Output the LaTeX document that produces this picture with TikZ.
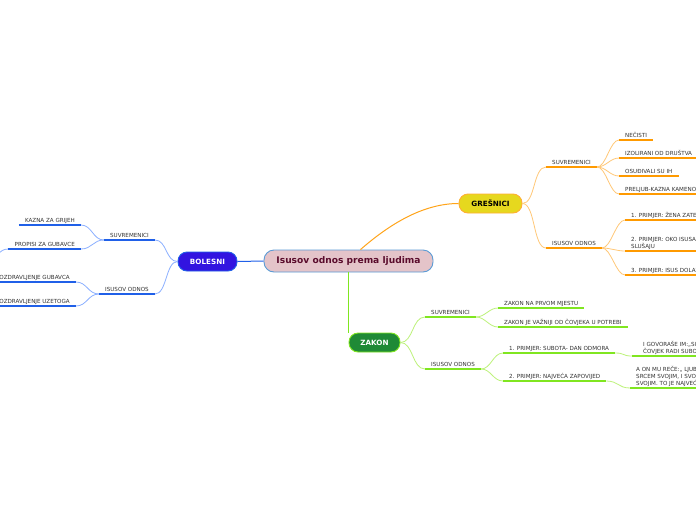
\documentclass[tikz,border=0pt]{standalone}
\usepackage{fontspec}
\setmainfont{DejaVu Sans}
\definecolor{ora}{HTML}{FF9A00}
\definecolor{oral}{HTML}{FFC878}
\definecolor{grn}{HTML}{80E620}
\definecolor{grnl}{HTML}{BDF27A}
\definecolor{blu}{HTML}{2060E8}
\definecolor{blul}{HTML}{8CB0FF}
\definecolor{cfill}{HTML}{E4C4C9}
\definecolor{cbord}{HTML}{5B9BD5}
\definecolor{ctext}{HTML}{5A0C2C}
\definecolor{yfill}{HTML}{E6D81E}
\definecolor{bfill}{HTML}{3214E0}
\definecolor{zfill}{HTML}{1F8A36}
\definecolor{ltxt}{HTML}{333333}
\begin{document}
\begin{tikzpicture}[x=1pt,y=-1pt,
  lbl/.style={font=\fontsize{5.6}{7}\selectfont, text=ltxt, inner xsep=6pt, inner ysep=2.8pt, text depth=0pt, align=left},
  lblr/.style={lbl, anchor=south east},
  lbll/.style={lbl, anchor=south west},
  topic/.style={rounded corners=9pt, font=\fontsize{7.2}{8}\selectfont\bfseries, minimum height=19pt, inner sep=0pt, line width=0.9pt},
  oc/.style={draw=oral, line width=0.8pt},
  ou/.style={draw=ora, line width=2pt},
  gc/.style={draw=grnl, line width=0.8pt},
  gu/.style={draw=grn, line width=2pt},
  bc/.style={draw=blul, line width=0.8pt},
  bu/.style={draw=blu, line width=2pt}]
\useasboundingbox (0,0) rectangle (696,520);
\fill[white] (0,0) rectangle (696,520);

% main nodes
\node[draw=cbord, fill=cfill, rounded corners=10pt, minimum width=169pt, minimum height=22pt, inner sep=0pt, line width=0.9pt, text=ctext, font=\fontsize{9.1}{10}\selectfont\bfseries] (c) at (348.5,261) {Isusov odnos prema ljudima};
\node[topic, draw=ora!80, fill=yfill, text=black, minimum width=63pt] (g) at (490.5,203.5) {GREŠNICI};
\node[topic, draw=blu, fill=bfill, text=white, minimum width=59pt] (b) at (207.5,261.5) {BOLESNI};
\node[topic, draw=grn, fill=zfill, text=white, minimum width=51pt] (z) at (374.5,342.5) {ZAKON};

% GREŠNICI subtree
\node[lbll] (gsuv) at (546,167) {SUVREMENICI};
\node[lbll] (gn1) at (619,140) {NEČISTI};
\node[lbll] (gn2) at (619,158) {IZOLIRANI OD DRUŠTVA};
\node[lbll] (gn3) at (619,176) {OSUĐIVALI SU IH};
\node[lbll] (gn4) at (619,194) {PRELJUB-KAZNA KAMENOVANJE};
\node[lbll] (gis) at (546,248) {ISUSOV ODNOS};
\node[lbll] (gi1) at (625,220) {1. PRIMJER: ŽENA ZATEČENA U PRELJUBU};
\node[lbll] (gi2) at (625,251) {2. PRIMJER: OKO ISUSA SE OKUPLJAJU GREŠNICI DA GA\\SLUŠAJU};
\node[lbll] (gi3) at (625,275) {3. PRIMJER: ISUS DOLAZI ZAKEJU};

% ZAKON subtree
\node[lbll] (zsuv) at (425,317) {SUVREMENICI};
\node[lbll] (zs1) at (498,308) {ZAKON NA PRVOM MJESTU};
\node[lbll] (zs2) at (498,327) {ZAKON JE VAŽNIJI OD ČOVJEKA U POTREBI};
\node[lbll] (zis) at (425,369) {ISUSOV ODNOS};
\node[lbll] (zi1) at (503,353) {1. PRIMJER: SUBOTA- DAN ODMORA};
\node[lbll] (zi2) at (503,381) {2. PRIMJER: NAJVEĆA ZAPOVIJED};
\node[lbll, inner xsep=11pt] (zl1) at (632,356) {I GOVORAŠE IM:,,SUBOTA JE STVORENA RADI\\ČOVJEK RADI SUBOTE};
\node[lbll] (zl2) at (630,388) {A ON MU REČE:,, LJUBI GOSPODINA BOGA SVOGA\\SRCEM SVOJIM, I SVOM DUŠOM SVOJOM\\SVOJIM. TO JE NAJVEĆA ZAPOVIJED};

% BOLESNI subtree
\node[lblr] (bsuv) at (155,240) {SUVREMENICI};
\node[lblr] (bs1) at (81,225) {KAZNA ZA GRIJEH};
\node[lblr] (bs2) at (81,249) {PROPISI ZA GUBAVCE};
\node[lblr] (bis) at (155,294) {ISUSOV ODNOS};
\node[lblr] (bi1) at (76,282) {OZDRAVLJENJE GUBAVCA};
\node[lblr] (bi2) at (76,306) {OZDRAVLJENJE UZETOGA};
\coordinate (boff) at (-12,258);

% main connectors
\draw[ora!90, line width=1pt] ([xshift=12pt]c.north) .. controls (392,222) and (425,203.5) .. (g.west);
\draw[blu, line width=1pt] (c.west) -- (b.east);
\draw[grn, line width=1pt] (c.south) -- (c.south |- z.north);

% orange
\foreach \n in {gsuv,gis}
  \draw[oc] (g.east) .. controls +(13,0) and +(-13,0) .. (\n.south west);
\foreach \n in {gn1,gn2,gn3,gn4}
  \draw[oc] (gsuv.south east) .. controls +(9,0) and +(-9,0) .. (\n.south west);
\foreach \n in {gi1,gi2,gi3}
  \draw[oc] (gis.south east) .. controls +(9,0) and +(-9,0) .. (\n.south west);
\foreach \n in {gsuv,gn1,gn2,gn3,gn4,gis,gi1,gi2,gi3}
  \draw[ou] (\n.south west) -- (\n.south east);

% green
\foreach \n in {zsuv,zis}
  \draw[gc] (z.east) .. controls +(13,0) and +(-13,0) .. (\n.south west);
\foreach \n in {zs1,zs2}
  \draw[gc] (zsuv.south east) .. controls +(9,0) and +(-9,0) .. (\n.south west);
\foreach \n in {zi1,zi2}
  \draw[gc] (zis.south east) .. controls +(10,0) and +(-10,0) .. (\n.south west);
\draw[gc] (zi1.south east) .. controls +(10,0) and +(-10,0) .. (zl1.south west);
\draw[gc] (zi2.south east) .. controls +(12,0) and +(-12,0) .. (zl2.south west);
\foreach \n in {zsuv,zs1,zs2,zis,zi1,zi2,zl1,zl2}
  \draw[gu] (\n.south west) -- (\n.south east);

% blue
\foreach \n in {bsuv,bis}
  \draw[bc] (b.west) .. controls +(-12,0) and +(12,0) .. (\n.south east);
\foreach \n in {bs1,bs2}
  \draw[bc] (bsuv.south west) .. controls +(-11,0) and +(11,0) .. (\n.south east);
\foreach \n in {bi1,bi2}
  \draw[bc] (bis.south west) .. controls +(-11,0) and +(11,0) .. (\n.south east);
\draw[bc] (bs2.south west) .. controls +(-10,0) and +(10,0) .. (boff);
\foreach \n in {bsuv,bs1,bs2,bis,bi1,bi2}
  \draw[bu] (\n.south west) -- (\n.south east);
\end{tikzpicture}
\end{document}
